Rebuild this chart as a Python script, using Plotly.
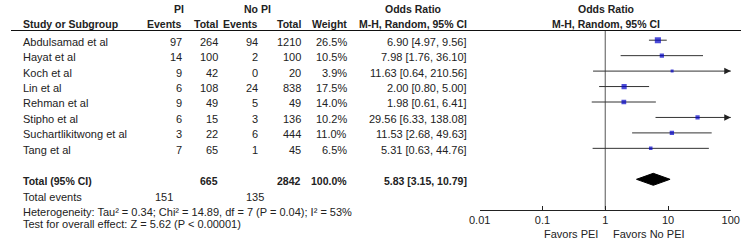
import math
import plotly.graph_objects as go

# ---------------- data ----------------
studies = ["Abdulsamad et al", "Hayat et al", "Koch et al", "Lin et al",
           "Rehman et al", "Stipho et al", "Suchartlikitwong et al", "Tang et al"]
pi_events = [97, 14, 9, 6, 9, 6, 3, 7]
pi_total = [264, 100, 42, 108, 49, 15, 22, 65]
nopi_events = [94, 2, 0, 24, 5, 3, 6, 1]
nopi_total = [1210, 100, 20, 838, 49, 136, 444, 45]
weights = [26.5, 10.5, 3.9, 17.5, 14.0, 10.2, 11.0, 6.5]
or_est = [6.90, 7.98, 11.63, 2.00, 1.98, 29.56, 11.53, 5.31]
or_lo = [4.97, 1.76, 0.64, 0.80, 0.61, 6.33, 2.68, 0.63]
or_hi = [9.56, 36.10, 210.56, 5.00, 6.41, 138.08, 49.63, 44.76]

total_pi = 665
total_nopi = 2842
total_weight = 100.0
total_or = 5.83
total_lo = 3.15
total_hi = 10.79
events_pi = 151
events_nopi = 135
het_text = "Heterogeneity: Tau² = 0.34; Chi² = 14.89, df = 7 (P = 0.04); I² = 53%"
overall_text = "Test for overall effect: Z = 5.62 (P < 0.00001)"

tick_vals = [0.01, 0.1, 1, 10, 100]
tick_text = ["0.01", "0.1", "1", "10", "100"]
axis_min, axis_max = 0.01, 100

# ---------------- layout constants (pixels) ----------------
W, H = 750, 249
FONT = "Liberation Sans, Arial, sans-serif"
FS = 11
FSB = 10.5
TXT = "#222222"
row0, drow = 40.2, 15.45
text_dy = 1.4
total_y = 179.3
events_y = 197.3
het_y = 211.7
overall_y = 224.3
header_line_y = 30.5
axis_y = 209.5
hdr1_y, hdr2_y = 8.5, 23.5
favors_y = 234.3

x_name = 10
x_pie, x_pit, x_npe, x_npt, x_w, x_or = 177.5, 215, 255.5, 300, 347, 471
x_pi_hdr, x_nopi_hdr, x_or_hdr = 172.5, 253, 413
x_ev_pi, x_ev_nopi = 168.5, 262
plot_x0, plot_x1 = 481.5, 739.5

row_y = [row0 + i * drow for i in range(len(studies))]

annotations = []


def ann(text, px, py, xanchor="right", bold=False):
    annotations.append(dict(
        text=("<b>%s</b>" % text) if bold else text,
        x=px / W, y=py, xref="paper", yref="y",
        xanchor=xanchor, yanchor="middle", showarrow=False,
        font=dict(family=FONT, size=FSB if bold else FS, color=TXT)))


# headers
ann("PI", x_pi_hdr, hdr1_y, "center", True)
ann("No PI", x_nopi_hdr, hdr1_y, "center", True)
ann("Odds Ratio", x_or_hdr, hdr1_y, "center", True)
ann("Odds Ratio", (plot_x0 + plot_x1) / 2 + 0.5, hdr1_y, "center", True)
ann("Study or Subgroup", x_name, hdr2_y, "left", True)
ann("Events", x_pie, hdr2_y, "right", True)
ann("Total", x_pit, hdr2_y, "right", True)
ann("Events", x_npe, hdr2_y, "right", True)
ann("Total", x_npt, hdr2_y, "right", True)
ann("Weight", x_w, hdr2_y, "right", True)
ann("M-H, Random, 95% CI", x_or_hdr, hdr2_y, "center", True)
ann("M-H, Random, 95% CI", (plot_x0 + plot_x1) / 2 + 0.5, hdr2_y, "center", True)

# study rows
for i, s in enumerate(studies):
    y = row_y[i] + text_dy
    ann(s, x_name, y, "left")
    ann(str(pi_events[i]), x_pie, y)
    ann(str(pi_total[i]), x_pit, y)
    ann(str(nopi_events[i]), x_npe, y)
    ann(str(nopi_total[i]), x_npt, y)
    ann("%.1f%%" % weights[i], x_w, y)
    ann("%.2f [%.2f, %.2f]" % (or_est[i], or_lo[i], or_hi[i]), x_or, y)

# totals
ty = total_y + text_dy
ann("Total (95% CI)", x_name, ty, "left", True)
ann(str(total_pi), x_pit, ty, "right", True)
ann(str(total_nopi), x_npt, ty, "right", True)
ann("%.1f%%" % total_weight, x_w, ty, "right", True)
ann("%.2f [%.2f, %.2f]" % (total_or, total_lo, total_hi), x_or, ty, "right", True)
ann("Total events", x_name, events_y, "left")
ann(str(events_pi), x_ev_pi, events_y)
ann(str(events_nopi), x_ev_nopi, events_y)
ann(het_text, x_name, het_y, "left")
ann(overall_text, x_name, overall_y, "left")

# favors labels
one_px = plot_x0 + (plot_x1 - plot_x0) * (0 - math.log10(axis_min)) / (math.log10(axis_max) - math.log10(axis_min))
ann("Favors PEI", one_px - 5.5, favors_y, "right")
ann("Favors No PEI", one_px + 5.5, favors_y, "left")

# arrows for CIs beyond axis max
for i in range(len(studies)):
    if or_hi[i] > axis_max:
        annotations.append(dict(
            x=math.log10(axis_max), y=row_y[i], xref="x", yref="y",
            ax=-7, ay=0, axref="pixel", ayref="pixel", text="",
            showarrow=True, arrowhead=2, arrowsize=1.3, arrowwidth=1,
            arrowcolor=TXT))

fig = go.Figure()

# vertical no-effect line
fig.add_trace(go.Scatter(x=[1, 1], y=[header_line_y, axis_y], mode="lines",
                         line=dict(color="#555555", width=1), hoverinfo="skip"))

# CI lines
cx, cy = [], []
for i in range(len(studies)):
    cx += [or_lo[i], or_hi[i], None]
    cy += [row_y[i], row_y[i], None]
fig.add_trace(go.Scatter(x=cx, y=cy, mode="lines",
                         line=dict(color="#333333", width=1), hoverinfo="skip"))

# squares
fig.add_trace(go.Scatter(
    x=or_est, y=row_y, mode="markers",
    marker=dict(symbol="square", color="#0000c8",
                size=[1.0 + math.sqrt(w) for w in weights], line=dict(width=0)),
    hoverinfo="skip"))

# diamond
dh = 6
fig.add_trace(go.Scatter(
    x=[total_lo, total_or, total_hi, total_or, total_lo],
    y=[total_y, total_y - dh, total_y, total_y + dh, total_y],
    mode="lines", fill="toself", fillcolor="#000000",
    line=dict(color="#000000", width=1), hoverinfo="skip"))

shapes = [dict(type="line", xref="paper", yref="y", x0=0, x1=1,
               y0=header_line_y, y1=header_line_y,
               line=dict(color="#111111", width=1.2))]

fig.update_layout(
    width=W, height=H, autosize=False,
    margin=dict(l=0, r=0, t=0, b=0),
    paper_bgcolor="white", plot_bgcolor="white",
    showlegend=False,
    annotations=annotations, shapes=shapes,
    xaxis=dict(type="log", range=[math.log10(axis_min), math.log10(axis_max)],
               domain=[plot_x0 / W, plot_x1 / W], anchor="free",
               position=1 - axis_y / H,
               showline=True, linecolor="#222222", linewidth=1,
               ticks="inside", ticklen=4, tickcolor="#222222", tickwidth=1,
               tickvals=tick_vals, ticktext=tick_text,
               tickfont=dict(family=FONT, size=FS, color=TXT),
               showgrid=False, zeroline=False, fixedrange=True),
    yaxis=dict(range=[H, 0], domain=[0, 1], visible=False,
               showgrid=False, zeroline=False, fixedrange=True),
)

fig.write_html(
    "out.html",
    config={"displayModeBar": False, "staticPlot": True},
    post_script="document.body.style.margin='0';document.body.style.overflow='hidden';",
)
